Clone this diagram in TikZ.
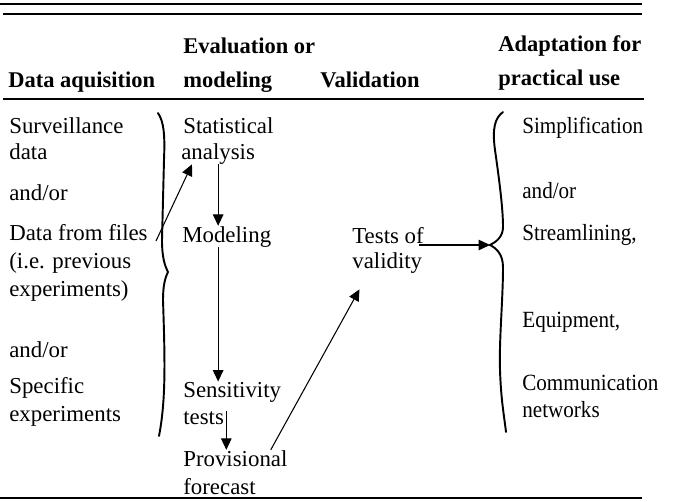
\documentclass[tikz,border=0pt]{standalone}
\usepackage{fontspec}
\setmainfont{Liberation Serif}
\newfontfamily\narrowserif[FakeStretch=0.91]{Liberation Serif}
\usepackage{tikz}
\usetikzlibrary{arrows.meta}
\tikzset{
    txt/.style={
        anchor=base west,
        inner sep=0pt,
        font=\fontsize{13}{15}\selectfont
    },
    rtxt/.style={
        txt,
        font=\fontsize{13.2}{15}\narrowserif
    },
    head/.style={
        anchor=base west,
        inner sep=0pt,
        font=\fontsize{12.8}{15}\selectfont\bfseries
    },
    arr/.style={
        -{Triangle[length=6.5pt,width=6pt]},
        line width=0.6pt
    },
    brace/.style={
        line width=1.1pt,
        line cap=round
    },
    rule/.style={
        line width=1.1pt
    }
}
\begin{document}
\begin{tikzpicture}[x=0.02cm, y=-0.02cm]
    \useasboundingbox (0,0) rectangle (687,501);
    % rules
    \draw[rule, line width=1.4pt] (0,4) -- (642,4);
    \draw[rule, line width=0.9pt] (3,14) -- (642,14);
    \draw[rule] (3,99) -- (644,99);
    \draw[rule] (0,498) -- (642,498);

    % column heads
    \node[head] (h1) at (8,87) {Data aquisition};
    \node[head] (h2a) at (183,53) {Evaluation or};
    \node[head] (h2b) at (183,87) {modeling};
    \node[head] (h3) at (320,87) {Validation};
    \node[head] (h4a) at (498,51) {Adaptation for};
    \node[head] (h4b) at (498,85) {practical use};

    % data aquisition
    \node[txt] (surv) at (9,133) {Surveillance};
    \node[txt] (data) at (9,159) {data};
    \node[txt] (andor1) at (9,200) {and/or};
    \node[txt] (files) at (9,240) {Data from files};
    \node[txt] (prev) at (9,268) {(i.e. previous};
    \node[txt] (exps) at (9,296) {experiments)};
    \node[txt] (andor2) at (9,357) {and/or};
    \node[txt] (spec) at (9,393) {Specific};
    \node[txt] (exps2) at (9,421) {experiments};

    % evaluation or modeling
    \node[txt] (stat) at (183,133) {Statistical};
    \node[txt] (anal) at (181,159) {analysis};
    \node[txt] (model) at (182,242) {Modeling};
    \node[txt] (sens) at (183,397) {Sensitivity};
    \node[txt] (tests) at (183,424) {tests};
    \node[txt] (prov) at (183,466) {Provisional};
    \node[txt] (fcast) at (183,494) {forecast};

    % validation
    \node[txt] (testsof) at (352,243) {Tests of};
    \node[txt] (valid) at (352,268) {validity};

    % adaptation
    \node[rtxt] (simp) at (522,133) {Simplification};
    \node[rtxt] (andor3) at (522,198) {and/or};
    \node[rtxt] (stream) at (522,240) {Streamlining,};
    \node[rtxt] (equip) at (522,327) {Equipment,};
    \node[rtxt] (comm) at (522,390) {Communication};
    \node[rtxt] (netw) at (522,417) {networks};

    % braces
    \coordinate (lcusp) at (168,272);
    \coordinate (rcusp) at (490,245);
    \draw[brace] (158,113) .. controls (164,122) and (165,135) .. (164,160)
        -- (162,240) .. controls (162,258) and (165,266) .. (lcusp)
        .. controls (165,278) and (163,286) .. (163,300)
        .. controls (165,360) and (166,400) .. (159,436);
    \draw[brace] (503,112) .. controls (495,118) and (492,128) .. (495,150)
        .. controls (500,185) and (503,210) .. (503,227)
        .. controls (503,237) and (496,242) .. (rcusp)
        .. controls (496,248) and (503,254) .. (503,267)
        .. controls (503,300) and (499,340) .. (500,370)
        .. controls (501,400) and (504,415) .. (506,432);

    % arrows
    \draw[arr] ([shift={(0.16cm,-0.18cm)}]files.east) -- ([xshift=0.22cm]anal.south west);
    \draw[arr] (anal.south) -- (anal.south |- model.north);
    \draw[arr] (anal.south |- model.south) -- (anal.south |- sens.north);
    \draw[arr] ([xshift=0.04cm]tests.north east) -- ([xshift=0.04cm]tests.north east |- prov.north);
    \draw[arr] ([xshift=-0.34cm]prov.north east) -- ([shift={(0.15cm,-0.32cm)}]valid.south west);
    \draw[arr] ([shift={(-0.1cm,-0.04cm)}]testsof.base east) -- ([yshift=-0.04cm]testsof.base east -| rcusp);
\end{tikzpicture}
\end{document}
